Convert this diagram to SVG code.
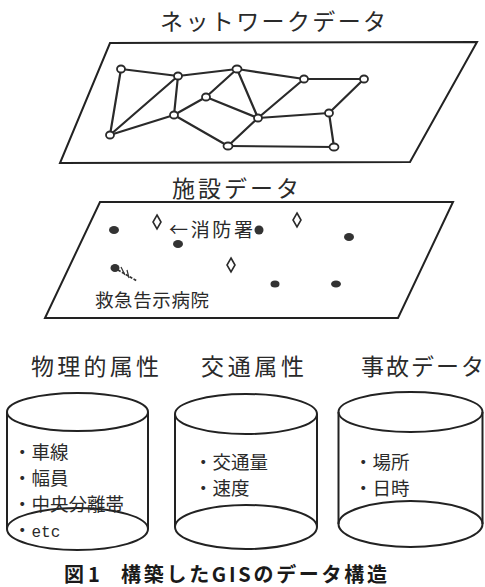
<svg xmlns="http://www.w3.org/2000/svg" width="485" height="587" viewBox="0 0 485 587">
  <defs>
    <style>
      .bg { fill: #ffffff; }
      .plane { fill: none; stroke: #222; stroke-width: 2; stroke-linejoin: miter; }
      .edge { stroke: #2a2a2a; stroke-width: 2.2; fill: none; stroke-linecap: round; }
      .node { fill: #fff; stroke: #2a2a2a; stroke-width: 1.8; }
      .dot { fill: #333; stroke: none; }
      .diam { fill: #fff; stroke: #2a2a2a; stroke-width: 1.6; }
      .cyl { fill: none; stroke: #222; stroke-width: 2; }
      .lbl { font-family: "Noto Sans CJK JP", "Noto Sans", sans-serif; fill: #2a2a2a; }
      .item { font-family: "Noto Sans CJK JP", "Noto Sans", sans-serif; fill: #2a2a2a; font-size: 18.5px; }
      .mono { font-family: "Liberation Mono", "DejaVu Sans Mono", monospace; }
      .cap { font-family: "Noto Sans CJK JP", "Noto Sans", sans-serif; fill: #1a1a1a; font-size: 20px; font-weight: bold; }
    </style>
  </defs>
  <rect class="bg" x="0" y="0" width="485" height="587"/>

  <!-- Network data layer -->
  <g id="network-layer">
    <text class="lbl" x="160" y="30" font-size="23" textLength="226" lengthAdjust="spacing">ネットワークデータ</text>
    <polygon class="plane" points="110,43 477,42 410,162 60,163"/>
  </g>

  <g id="network-edges">
    <line class="edge" x1="121" y1="69" x2="178" y2="76"/>
    <line class="edge" x1="178" y1="76" x2="237" y2="69"/>
    <line class="edge" x1="237" y1="69" x2="304" y2="79"/>
    <line class="edge" x1="304" y1="79" x2="364" y2="79"/>
    <line class="edge" x1="121" y1="69" x2="110" y2="135"/>
    <line class="edge" x1="110" y1="135" x2="178" y2="76"/>
    <line class="edge" x1="178" y1="76" x2="174" y2="115"/>
    <line class="edge" x1="110" y1="135" x2="174" y2="115"/>
    <line class="edge" x1="174" y1="115" x2="206" y2="97"/>
    <line class="edge" x1="206" y1="97" x2="237" y2="69"/>
    <line class="edge" x1="237" y1="69" x2="258" y2="118"/>
    <line class="edge" x1="206" y1="97" x2="258" y2="118"/>
    <line class="edge" x1="174" y1="115" x2="228" y2="146"/>
    <line class="edge" x1="228" y1="146" x2="258" y2="118"/>
    <line class="edge" x1="258" y1="118" x2="304" y2="79"/>
    <line class="edge" x1="258" y1="118" x2="329" y2="113"/>
    <line class="edge" x1="329" y1="113" x2="364" y2="79"/>
    <line class="edge" x1="329" y1="113" x2="334" y2="147"/>
    <line class="edge" x1="228" y1="146" x2="334" y2="147"/>
  </g>

  <g id="network-nodes">
    <ellipse class="node" cx="121" cy="69" rx="4" ry="3.5"/>
    <ellipse class="node" cx="178" cy="76" rx="4" ry="3.5"/>
    <ellipse class="node" cx="237" cy="69" rx="4.5" ry="3.5"/>
    <ellipse class="node" cx="304" cy="79" rx="4" ry="3.5"/>
    <ellipse class="node" cx="364" cy="79" rx="4" ry="3.5"/>
    <ellipse class="node" cx="206" cy="97" rx="4" ry="3.5"/>
    <ellipse class="node" cx="174" cy="115" rx="4" ry="3.5"/>
    <ellipse class="node" cx="258" cy="118" rx="4" ry="3.5"/>
    <ellipse class="node" cx="329" cy="113" rx="4" ry="3.5"/>
    <ellipse class="node" cx="110" cy="135" rx="4" ry="3.5"/>
    <ellipse class="node" cx="228" cy="146" rx="4.5" ry="3.5"/>
    <ellipse class="node" cx="334" cy="147" rx="4.5" ry="3.5"/>
  </g>

  <!-- Facility data layer -->
  <g id="facility-layer">
    <text class="lbl" x="172" y="197" font-size="23" textLength="127" lengthAdjust="spacing">施設データ</text>
    <polygon class="plane" points="100,202 453,202 398,318 45,318"/>
    <ellipse class="dot" cx="114" cy="230" rx="5" ry="4"/>
    <ellipse class="dot" cx="178" cy="244" rx="5" ry="4"/>
    <ellipse class="dot" cx="259" cy="230" rx="4.5" ry="4.5"/>
    <ellipse class="dot" cx="349" cy="237" rx="5" ry="4"/>
    <ellipse class="dot" cx="115" cy="268" rx="4.5" ry="4"/>
    <ellipse class="dot" cx="275" cy="284" rx="4.5" ry="3.5"/>
    <ellipse class="dot" cx="336" cy="284" rx="5" ry="3.5"/>
    <polygon class="diam" points="157,215 161,222 157,229 153,222"/>
    <polygon class="diam" points="297,213 301,220 297,227 293,220"/>
    <polygon class="diam" points="231,258 235,265 231,272 227,265"/>
    <path d="M118,270 L137,281" stroke="#333" stroke-width="1.6" stroke-dasharray="3,1.5" fill="none"/>
    <path d="M121,267 L125,275 M127,270 L129,278" stroke="#333" stroke-width="1.2" fill="none"/>
    <text class="lbl" x="169" y="237" font-size="19" textLength="84" lengthAdjust="spacing">←消防署</text>
    <text class="lbl" x="95" y="307" font-size="18.5" textLength="114" lengthAdjust="spacing">救急告示病院</text>
  </g>

  <!-- Physical attributes -->
  <g id="physical-attributes">
    <text class="lbl" x="31" y="375" font-size="23" textLength="128" lengthAdjust="spacing">物理的属性</text>
    <ellipse class="cyl" cx="77.5" cy="412" rx="70.5" ry="19"/>
    <line class="cyl" x1="7" y1="412" x2="7" y2="529"/>
    <line class="cyl" x1="148" y1="412" x2="148" y2="529"/>
    <ellipse class="cyl" cx="77.5" cy="529" rx="70.5" ry="21"/>
    <text class="item" x="13" y="459">・車線</text>
    <text class="item" x="13" y="485">・幅員</text>
    <text class="item" x="13" y="511">・中央分離帯</text>
    <text class="item" x="13" y="537">・<tspan class="mono" font-size="16">etc</tspan></text>
  </g>

  <!-- Traffic attributes -->
  <g id="traffic-attributes">
    <text class="lbl" x="201" y="375" font-size="23" textLength="103" lengthAdjust="spacing">交通属性</text>
    <ellipse class="cyl" cx="246" cy="414" rx="71" ry="20"/>
    <line class="cyl" x1="175" y1="414" x2="175" y2="527"/>
    <line class="cyl" x1="317" y1="414" x2="317" y2="527"/>
    <ellipse class="cyl" cx="246" cy="527" rx="71" ry="22"/>
    <text class="item" x="194" y="469">・交通量</text>
    <text class="item" x="194" y="495">・速度</text>
  </g>

  <!-- Accident data -->
  <g id="accident-data">
    <text class="lbl" x="361" y="375" font-size="23" textLength="123" lengthAdjust="spacing">事故データ</text>
    <ellipse class="cyl" cx="410.5" cy="412" rx="72" ry="20"/>
    <line class="cyl" x1="338.5" y1="412" x2="338.5" y2="524"/>
    <line class="cyl" x1="482.5" y1="412" x2="482.5" y2="524"/>
    <ellipse class="cyl" cx="410.5" cy="524" rx="72" ry="23"/>
    <text class="item" x="354" y="469">・場所</text>
    <text class="item" x="354" y="495">・日時</text>
  </g>

  <!-- Caption -->
  <g id="caption">
    <text class="cap" x="64" y="582">図</text>
    <text class="cap" x="88" y="582">1</text>
    <text class="cap" x="121" y="582" textLength="266" lengthAdjust="spacing">構築したGISのデータ構造</text>
  </g>
</svg>
